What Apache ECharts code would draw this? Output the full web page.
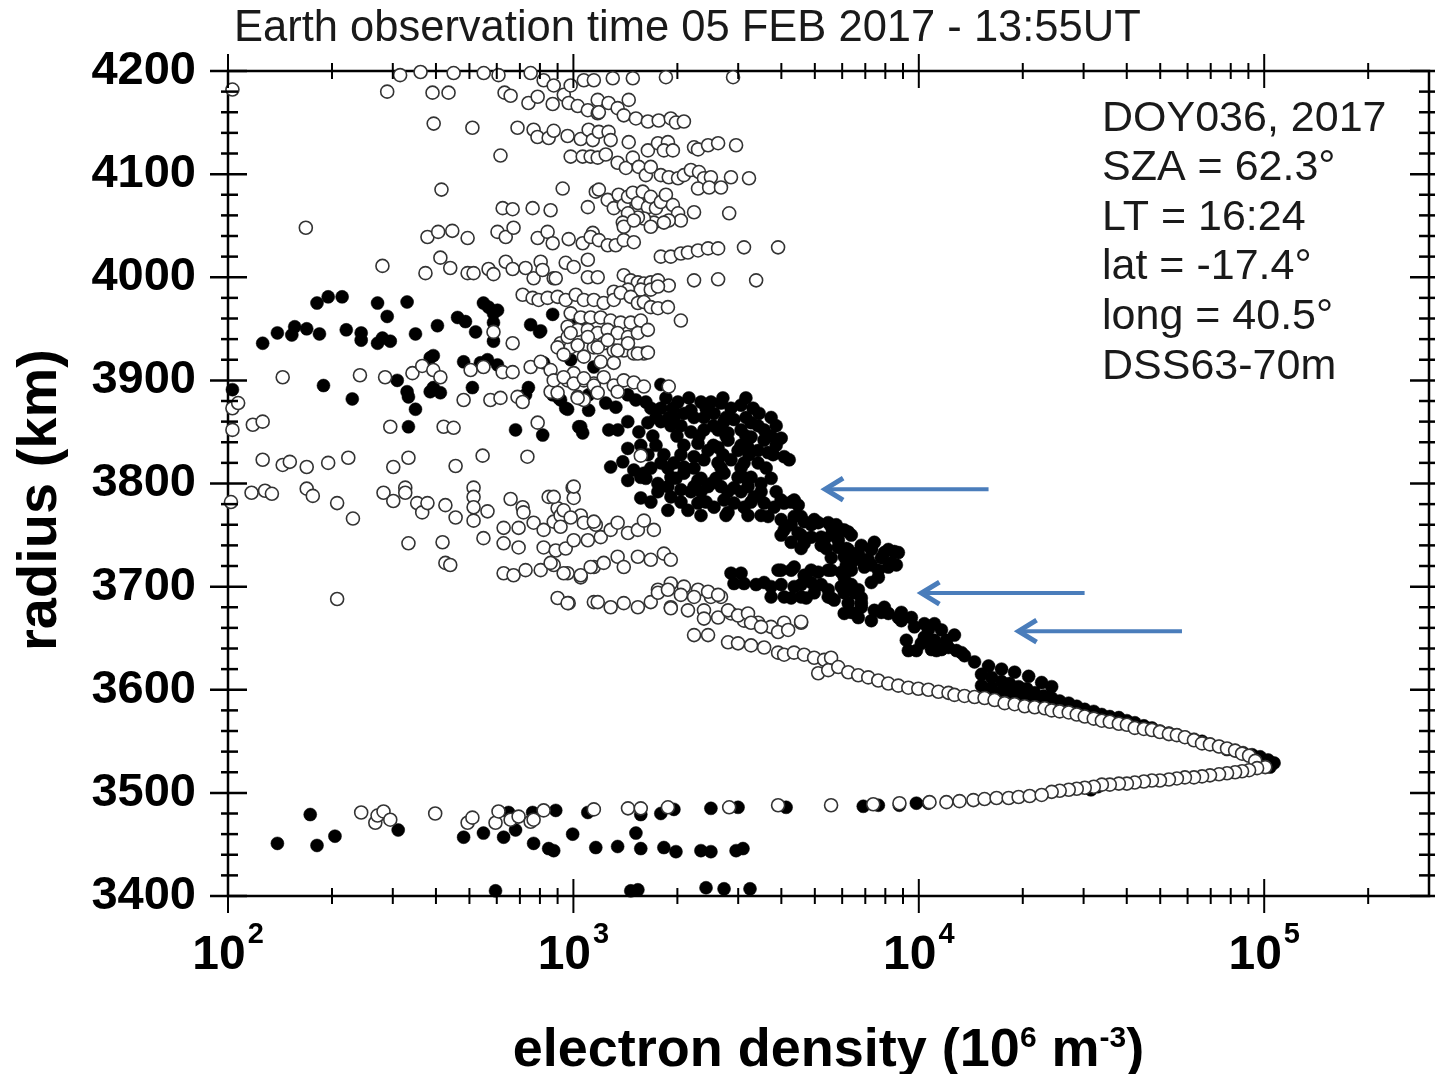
<!DOCTYPE html>
<html><head><meta charset="utf-8">
<script src="https://cdn.jsdelivr.net/npm/echarts@6/dist/echarts.min.js"></script>
<style>html,body{margin:0;padding:0;background:#fff}#c{width:1435px;height:1074px}</style>
</head><body><div id="c"></div>
<script>
const titleText = 'Earth observation time 05 FEB 2017 - 13:55UT';
const infoLines = ['DOY036, 2017', 'SZA = 62.3°', 'LT = 16:24', 'lat = -17.4°', 'long = 40.5°', 'DSS63-70m'];
const xName = 'electron density (10{sup|6} m{sup|-3})';
const yName = 'radius (km)';
const xMin = 100, xMax = 300000, yMin = 3400, yMax = 4200;
const xMajorTicks = [100, 1000, 10000, 100000];
const xMinorTicks = [200,300,400,500,600,700,800,900,2000,3000,4000,5000,6000,7000,8000,9000,20000,30000,40000,50000,60000,70000,80000,90000,200000];
const yMajorTicks = [3400,3500,3600,3700,3800,3900,4000,4100,4200];
const yMinorTicks = [3420,3440,3460,3480,3520,3540,3560,3580,3620,3640,3660,3680,3720,3740,3760,3780,3820,3840,3860,3880,3920,3940,3960,3980,4020,4040,4060,4080,4120,4140,4160,4180];
// arrows: [tail density, radius, tip density]
const arrows = [[15920, 3794.5, 5285], [30200, 3693.7, 10040], [57800, 3656.8, 19190]];

// open circles [density, radius]
const openCircles = [
[103,4182],[289,4180],[391,4179],[435,4179],[394,4149],[510,4145],[689,4145],[615,4118],[767,4143],[787,4136],[848,4135],[877,4142],[962,4137],[1050,4134],[1107,4143],[1138,4133],[632,4179],[658,4176],[741,4169],[788,4175],[871,4168],[938,4177],[969,4169],[1029,4166],[1101,4162],[1176,4159],
[315,4196],[361,4199],[450,4198],[550,4198],[607,4196],[752,4198],[820,4191],[877,4186],[982,4186],[1072,4191],[1146,4191],
[415,4085],[931,4086],[1101,4068],[1161,4083],[168,4048],[624,4067],[667,4066],[762,4067],[859,4065],
[378,4039],[406,4044],[446,4045],[494,4038],[603,4044],[637,4039],[671,4048],
[788,4038],[842,4044],[871,4033],[969,4037],[1064,4033],[1138,4043],
[280,4011],[412,4019],[440,4009],[494,4004],[514,4004],[373,4004],
[568,4008],[587,4003],[637,4015],[667,4008],
[727,4009],[767,3999],[804,4015],[814,4007],[877,3999],[950,4014],[1002,4010],[1101,4017],[1101,4000],
[1300,4193],[1486,4193],[1853,4194],[2899,4194],
[1176,4172],[1185,4160],[1264,4169],[1343,4164],[1399,4157],[1446,4172],[1517,4154],[1643,4151],[1766,4152],[1914,4154],[1981,4150],[2089,4151],
[1185,4141],[1264,4141],[1282,4133],[1446,4131],[1643,4123],[1757,4130],[1878,4131],[1828,4123],[1941,4123],[2235,4126],[2295,4124],[2454,4128],[2624,4130],[2958,4128],
[982,4117],[1064,4117],[1122,4117],[1176,4116],[1241,4119],[1343,4111],[1419,4106],[1486,4116],[1546,4107],[1621,4099],[1675,4107],[1791,4099],[1888,4097],[2009,4096],[2089,4099],[2188,4104],[2310,4102],[2388,4096],[2501,4097],[2295,4086],[2472,4087],[2675,4087],[2859,4097],[3224,4096],
[1185,4085],[1257,4075],[1309,4067],[1352,4080],[1399,4070],[1439,4078],[1486,4082],[1537,4072],[1588,4083],[1643,4068],[1675,4078],[1734,4067],[1791,4073],[1853,4080],[1941,4070],[2009,4062],[2047,4055],[1888,4055],[1710,4053],[1600,4057],[1537,4058],[1439,4062],[1390,4053],[1399,4049],[1496,4055],[1675,4049],[1828,4053],[2235,4063],[2825,4062],
[1122,4039],[1185,4036],[1257,4031],[1326,4031],[1399,4036],[1496,4034],
[1791,4020],[1914,4020],[2047,4023],[2146,4024],[2295,4026],[2454,4028],[2624,4028],[3118,4029],[3914,4029],
[1176,4000],[889,3999],
[1399,4002],[1466,3997],[1537,3995],[1600,3994],[1675,3995],[1757,3997],[1888,3992],[1439,3988],[1567,3988],[1675,3988],[1757,3991],[2235,3997],[2624,3998],[3381,3997],[1309,3986],
[713,3983],[762,3980],[793,3978],[842,3980],[900,3981],[950,3978],[1016,3983],[1072,3978],[1146,3978],[1224,3975],[1309,3978],[1371,3985],[1466,3981],[1537,3975],[1600,3976],[1675,3971],[1757,3970],[1878,3971],[2047,3958],[982,3965],[1050,3961],[1122,3961],[1200,3961],[1282,3958],[1371,3956],[1466,3956],[1567,3958],[962,3952],[1029,3949],[1101,3949],[1176,3946],[1257,3949],[1343,3946],[1439,3942],[1537,3946],[1643,3949],[918,3936],[982,3932],[1072,3932],[1146,3932],[1224,3936],[1309,3929],[1399,3929],[1496,3926],[1600,3926],[667,3936],[587,3947],
[144,3903],[241,3905],[285,3903],[342,3907],[365,3914],[393,3910],[412,3903],[504,3910],[549,3913],[624,3908],[667,3908],[752,3913],[804,3918],[859,3910],[962,3900],[1002,3907],[1072,3900],[1146,3897],
[481,3881],[575,3881],[615,3883],[689,3884],[713,3879],[859,3889],[1029,3884],[1072,3881],
[103,3873],[107,3878],[103,3852],[102,3782],
[118,3857],[126,3860],[295,3855],[421,3855],[450,3854],[788,3859],
[126,3823],[144,3818],[151,3821],[169,3816],[195,3820],[223,3825],[301,3816],[333,3825],[456,3817],[546,3827],[736,3826],
[117,3791],[128,3793],[134,3790],[169,3795],[176,3788],[207,3781],[282,3791],[301,3783],[326,3796],[326,3791],[353,3781],[365,3772],[378,3781],[426,3779],[456,3767],[514,3796],[514,3787],[514,3777],[514,3764],[564,3773],[658,3785],[713,3777],[717,3772],[848,3787],[900,3776],[995,3796],[1002,3786],[1050,3769],[1161,3760],[767,3762],[628,3757],[694,3757],[820,3755],[877,3763],[918,3769],
[230,3766],[333,3742],[418,3743],[549,3747],[628,3742],[694,3738],[820,3738],[889,3735],[950,3737],[1002,3745],
[426,3723],[440,3721],[628,3713],[671,3711],[727,3716],[804,3716],[877,3721],[962,3713],[1050,3709],[1146,3719],
[207,3688],[900,3689],[969,3684],[1146,3685],
[900,3932],[962,3942],[1029,3934],[1101,3942],[1176,3932],[1257,3939],[1343,3929],[1439,3936],[1537,3926],[1643,3927],[937,3925],[1072,3923],[1200,3918],[1309,3917],[982,3946],
[877,3900],[937,3903],[1002,3897],[1072,3902],[1146,3895],[1224,3903],[1309,3895],[1399,3900],[1496,3898],[1600,3894],[1888,3894],[900,3888],[1029,3883],[1176,3888],[1343,3889],
[1567,3827],
[877,3787],[937,3774],[1002,3797],[982,3767],[918,3758],[1072,3762],[1146,3763],[1101,3745],[1200,3748],[1282,3755],[1343,3762],[1439,3752],[1537,3755],[1600,3764],[1710,3755],
[859,3723],[937,3713],[1050,3711],[1122,3719],[1224,3723],[1343,3729],[1399,3719],[1537,3729],[1675,3726],[1828,3732],[1914,3726],[962,3684],[1176,3685],[1282,3680],[1399,3684],[1537,3680],[1675,3685],[1914,3680],[2146,3677],[1757,3697],[1914,3703],[2089,3700],[2295,3697],[2501,3690],[2675,3690],[2388,3677],[2624,3670],[2859,3674],[3118,3667],[3427,3665],[3733,3661],[4074,3665],[4563,3665],
[1757,3694],[1878,3697],[2047,3692],[2235,3690],[2454,3695],[2624,3692],[1914,3679],[2235,3653],[2454,3653],[2388,3669],[2804,3677],[2997,3672],[3203,3674],[3268,3665],[3494,3661],[3914,3656],[4186,3658],[4563,3666],[2804,3646],[2997,3645],[3268,3643],[3566,3641],[3914,3636],[4074,3634],[4352,3636],[4655,3634],[4977,3631],[5321,3629],[5572,3631],[5114,3616],[5468,3619],[5845,3622],[6248,3617],[6679,3614],[7140,3612],[7633,3609],[8160,3606],[8723,3604],[9325,3602],[9968,3601],[10660,3600],[11400,3598],[12190,3597],[12680,3595],[13560,3594],[14500,3593],[15500,3592],[16570,3590],[17720,3587],[18940,3586],[20250,3584],[21650,3583],[23140,3582],
[24250,3580],[25580,3579],[27170,3578],[28660,3576],[30230,3574],[32100,3572],[33880,3570],[35720,3569],[37940,3567],[40030,3566],[42190,3563],[44830,3562],[47290,3561],[49890,3559],[52970,3557],[55870,3556],[58940,3554],[62600,3551],[66070,3548],[69660,3547],[73980,3545],[78050,3543],[82370,3541],[86280,3538],[90410,3536],[94200,3531],
[100700,3525],[95370,3524],[90410,3522],[86280,3521],[82370,3520],[78050,3519],[73980,3518],[69660,3517],[66070,3516],[62600,3515],[58940,3515],[55870,3514],[52970,3513],[49890,3512],[47290,3512],[44830,3511],[42190,3510],[40030,3509],[37940,3509],[35720,3508],[33880,3508],[32100,3506],[30230,3505],[28660,3504],[27170,3503],[25580,3502],[24250,3501],
[243,3481],[267,3471],[271,3478],[282,3482],[295,3474],[398,3480],[494,3471],[510,3476],[595,3471],[607,3482],[658,3474],[694,3477],[752,3472],[767,3474],[820,3483],[1146,3484],
[1439,3485],[1567,3485],[1878,3486],[2825,3486],[3914,3488],[5572,3488],[7380,3489],[8790,3490],[10740,3491],[12020,3491],[13120,3492],[14390,3493],[15500,3494],[16790,3495],[18200,3495],[19450,3496],[20940,3497],[22680,3498]
];

// filled circles [density, radius]
const filledCircles = [
[126,3936],[139,3946],[153,3944],[156,3952],[169,3950],[181,3975],[195,3981],[214,3981],[184,3945],[220,3949],[243,3946],[243,3939],[271,3975],[271,3936],[280,3941],[295,3938],[289,3962],[330,3976],[349,3945],[404,3953],[462,3961],[487,3957],[521,3947],[549,3975],[568,3971],[587,3965],[603,3968],[587,3956],[587,3938],[752,3954],[804,3948],[871,3964],[1029,3956],[1072,3960],[393,3924],
[798,3947],[385,3922],[481,3918],[538,3917],[564,3920],[603,3915],[820,3917],[982,3920],[1146,3913],[309,3900],[189,3895],[330,3889],[333,3884],[385,3889],[412,3888],[393,3893],[510,3893],[741,3893],[727,3886],[906,3883],[1107,3886],[229,3882],[349,3872],[962,3872],[1107,3871],[333,3855],[680,3852],[815,3847],[1050,3855],[1064,3849],[103,3891],
[1792,3896],
[871,3886],[918,3881],[950,3873],[1050,3882],[1241,3878],[1327,3874],[1437,3886],[1516,3881],[1621,3879],[1676,3873],[2007,3879],[2189,3871],[2341,3879],[2502,3879],[2675,3878],[3057,3876],[3448,3868],
[1036,3855],[1266,3852],[1345,3852],[1437,3860],[1547,3850],[1643,3859],[1792,3860],[1954,3864],[2089,3868],[2234,3864],[2388,3864],[2553,3868],[2729,3860],[2917,3862],[3057,3852],[3268,3845],[3565,3852],[3994,3844],[2189,3850],[2388,3852],[2622,3852],[2803,3849],[3268,3859],[3565,3842],
[1437,3834],[1282,3816],[1390,3821],[1496,3813],[1600,3810],[1792,3820],[1954,3820],[2089,3816],[2294,3839],[2453,3832],[2622,3835],[2803,3842],[2997,3832],[3203,3835],[3425,3832],[3661,3830],[4075,3826],[4214,3823],[2388,3823],[2622,3820],[2860,3823],[3119,3820],[3425,3820],[2234,3826],
[1437,3803],[1567,3806],[1756,3800],[1916,3806],[2089,3810],[2294,3803],[2502,3800],[2729,3810],[2997,3806],[3268,3806],[3494,3800],[1877,3797],[2048,3794],[2234,3797],[2453,3797],[2675,3797],[2917,3796],[3203,3797],
[1567,3786],[1877,3774],[2146,3774],[1916,3787],[2294,3781],[2553,3777],[2729,3784],[2917,3781],[3119,3777],[3334,3787],[3565,3781],[3811,3777],[4075,3781],[4475,3779],[2803,3772],
[1853,3883],[2160,3883],[2709,3883],[3158,3883],[1792,3873],[1941,3873],[2421,3873],[2860,3873],[3312,3873],[1734,3864],[1888,3864],[2766,3864],[3158,3864],[3736,3864],[1916,3856],[2048,3856],[2542,3856],[3425,3856],[3864,3856],[1698,3846],[1994,3846],[2310,3846],[2766,3846],[3158,3846],[3736,3846],[1567,3837],[1734,3837],[2089,3837],[2542,3837],[3057,3837],[3864,3837],[1643,3828],[1828,3828],[2048,3828],[2709,3828],[3224,3828],[3786,3828],[1676,3815],[1877,3815],[2234,3815],[2675,3815],[3057,3815],[3614,3815],[1621,3805],[1981,3805],[2341,3805],[2587,3805],[3158,3805],[3736,3805],[1756,3792],[2189,3792],[2341,3792],[2803,3792],[3057,3792],[3494,3792],[3864,3792],[1676,3782],[2048,3782],[2421,3782],[3268,3782],[4271,3782],[2341,3769],[2766,3769],[3203,3769],[3494,3769],
[3661,3768],[3994,3765],[4357,3768],[4656,3763],[5114,3762],[5578,3758],[6083,3755],[4075,3755],[4474,3752],[4881,3748],[5322,3745],[5845,3745],[4271,3743],[4656,3742],[5217,3740],[5845,3738],
[4271,3760],[4881,3760],[5766,3760],[3994,3750],[4563,3750],[5578,3750],[6375,3750],[4563,3737],[5395,3737],[6166,3737],[7288,3737],[5578,3728],[6592,3728],[7790,3728],[6166,3721],[7288,3721],[8610,3721],
[6083,3729],[6680,3733],[7288,3736],[7946,3733],[8496,3734],[6375,3723],[6955,3719],[7636,3716],[6955,3726],[8328,3723],
[2917,3703],[3119,3703],[3565,3704],[3914,3716],[4271,3716],[4656,3711],[5114,3714],[5578,3716],[6083,3709],[3736,3690],[4075,3690],[4563,3690],[4980,3694],[5466,3697],[5963,3700],[6680,3697],[7288,3704],[7636,3709],[8163,3719],
[3380,3702],[3994,3702],[4563,3702],[5217,3702],[6375,3702],[4271,3689],[4721,3689],[5578,3689],[6817,3689],[6375,3675],[7790,3675],[8902,3675],
[5690,3687],[6248,3684],[6817,3680],[7435,3677],[8163,3674],[8726,3670],[6083,3674],[6680,3670],[7288,3667],
[3994,3784],[4357,3784],[4563,3768],[4980,3765],[5466,3762],[5963,3755],[6248,3753],[5217,3748],[6248,3736],[6817,3740],[7435,3743],[8163,3736],[8726,3733],[6504,3726],[7143,3726],[3994,3716],[4357,3719],[4881,3716],[5466,3716],[5963,3714],[6375,3716],[6504,3694],[6817,3684],[8902,3667],[9710,3661],[10660,3658],[11630,3658],[12680,3653],[9328,3638],[10170,3645],[11100,3648],[12180,3641],[13290,3636],
[9204,3648],[10520,3648],[12030,3648],[9842,3638],[11250,3638],[12850,3638],
[2860,3713],[3057,3713],[3736,3700],[4357,3700],[4881,3704],[5466,3690],[6083,3694],[7946,3680],[9517,3670],[10380,3664],[11100,3664],[10380,3651],[11100,3646],[10880,3639],[11630,3639],[13560,3633],[14500,3627],[15920,3623],[17360,3620],[18940,3617],[20800,3613],[22680,3607],[24250,3603],
[15190,3615],[15190,3604],[16240,3612],[16240,3602],[17360,3608],[17360,3598],[18310,3606],[18310,3596],[19450,3603],[19450,3593],[20530,3601],[20530,3591],[21650,3597],[21650,3588],[22990,3594],[24250,3592],[25580,3589],[27160,3587],[28660,3584],[30230,3581],[32100,3579],[33860,3576],[35720,3574],[37940,3573],[40030,3570],[42220,3568],[44830,3565],[47290,3563],[49890,3560],[52970,3558],[55870,3556],[58940,3554],[62600,3552],[66070,3550],[69660,3547],[73980,3545],[78050,3542],[82340,3541],[86850,3539],[92240,3537],[97300,3535],[102600,3532],[106800,3529],[104000,3525],[31500,3503],[33000,3506],
[889,3483],[1101,3481],[1567,3479],[1791,3480],[1954,3484],[2501,3485],[2997,3486],[4128,3486],[6906,3487],[9840,3490],[7636,3488],[8785,3488],[10660,3490],
[995,3460],[1161,3447],[1343,3448],[1517,3461],[1567,3446],[1828,3447],[1981,3443],[2340,3444],[2501,3443],[2958,3444],[3097,3446],[877,3444],
[1466,3405],[1537,3406],[2421,3408],[2730,3407],[3246,3407],
[139,3451],[173,3479],[181,3449],[204,3458],[311,3464],[481,3457],[549,3461],[628,3457],[649,3481],[680,3464],[767,3451],[762,3481],[848,3446],[595,3405]
];

const FONT = '"Liberation Sans", Arial, Helvetica, sans-serif';
const chart = echarts.init(document.getElementById('c'), null, {renderer: 'canvas'});

const xTickData = xMajorTicks.map(v => [v, yMin, 1]).concat(xMinorTicks.map(v => [v, yMin, 0]));
const yTickData = yMajorTicks.map(v => [xMin, v, 1]).concat(yMinorTicks.map(v => [xMin, v, 0]));

function lineEl(x1, y1, x2, y2, w) {
  return {type: 'line', shape: {x1, y1, x2, y2}, style: {stroke: '#000', lineWidth: w}};
}

chart.setOption({
  animation: false,
  backgroundColor: '#fff',
  title: {
    text: titleText, left: 229, top: 2,
    textStyle: {fontFamily: FONT, fontSize: 43.5, fontWeight: 'normal', color: '#1a1a1a'}
  },
  grid: {left: 228, right: 6, top: 71, bottom: 178, show: true, borderColor: '#000', borderWidth: 2.5,
         backgroundColor: 'transparent', containLabel: false, outerBoundsMode: 'none'},
  xAxis: {
    type: 'log', logBase: 10, min: xMin, max: xMax,
    axisLine: {show: false}, axisTick: {show: false}, splitLine: {show: false},
    axisLabel: {
      margin: 24, showMaxLabel: false, color: '#000',
      formatter: v => '{b|10}{s|' + Math.round(Math.log10(v)) + '}',
      rich: {
        b: {fontFamily: FONT, fontSize: 48, fontWeight: 'bold', color: '#000', padding: [12, 0, 0, 0]},
        s: {fontFamily: FONT, fontSize: 29, fontWeight: 'bold', color: '#000', verticalAlign: 'top', padding: [0, 0, 0, 2]}
      }
    },
    name: xName, nameLocation: 'middle', nameGap: 128,
    nameTextStyle: {
      fontFamily: FONT, fontSize: 54, fontWeight: 'bold', color: '#000',
      rich: {sup: {fontFamily: FONT, fontSize: 30, fontWeight: 'bold', color: '#000', verticalAlign: 'top'}}
    }
  },
  yAxis: {
    type: 'value', min: yMin, max: yMax, interval: 100,
    axisLine: {show: false}, axisTick: {show: false}, splitLine: {show: false},
    axisLabel: {margin: 32, color: '#000', fontFamily: FONT, fontSize: 47, fontWeight: 'bold', formatter: v => String(v)}
  },
  graphic: [
    {type: 'text', x: 41, y: 500, rotation: Math.PI / 2,
     style: {text: yName, fontFamily: FONT, fontSize: 56, fontWeight: 'bold', fill: '#000', align: 'center', verticalAlign: 'middle'}},
    {type: 'text', x: 1102, y: 94,
     style: {text: infoLines.join('\n'), fontFamily: FONT, fontSize: 43, lineHeight: 49.6, fill: '#1a1a1a'}}
  ],
  series: [
    {
      type: 'scatter', name: 'filled', data: filledCircles, z: 3,
      symbol: 'circle', symbolSize: 13,
      itemStyle: {color: '#000', borderColor: '#000', borderWidth: 0.5, opacity: 1},
      emphasis: {disabled: true}
    },
    {
      type: 'scatter', name: 'open', data: openCircles, z: 4,
      symbol: 'circle', symbolSize: 13,
      itemStyle: {color: '#fff', borderColor: '#333', borderWidth: 1.6, opacity: 1},
      emphasis: {disabled: true}
    },
    {
      type: 'custom', name: 'arrows', data: arrows, z: 6, silent: true, clip: false,
      renderItem: (params, api) => {
        const a = api.coord([api.value(0), api.value(1)]);
        const b = api.coord([api.value(2), api.value(1)]);
        const col = '#4a7dbb';
        return {type: 'group', children: [
          {type: 'line', shape: {x1: a[0], y1: a[1], x2: b[0] + 3, y2: b[1]}, style: {stroke: col, lineWidth: 4}},
          {type: 'polyline', shape: {points: [[b[0] + 20, b[1] - 11], [b[0] + 2, b[1]], [b[0] + 20, b[1] + 11]]},
           style: {stroke: col, lineWidth: 5, fill: null, lineJoin: 'miter'}}
        ]};
      }
    },
    {
      type: 'custom', name: 'xticks', data: xTickData, z: 7, silent: true, clip: false,
      renderItem: (params, api) => {
        const v = api.value(0), major = api.value(2);
        const p = api.coord([v, yMin]);
        const q = api.coord([v, yMax]);
        const L = major ? 17 : 8;
        return {type: 'group', children: [
          lineEl(p[0], p[1] - L, p[0], p[1] + L, 2),
          lineEl(q[0], q[1] - L, q[0], q[1] + L, 2)
        ]};
      }
    },
    {
      type: 'custom', name: 'yticks', data: yTickData, z: 7, silent: true, clip: false,
      renderItem: (params, api) => {
        const v = api.value(1), major = api.value(2);
        const p = api.coord([xMin, v]);
        const q = api.coord([xMax, v]);
        const els = major
          ? [lineEl(p[0] - 18, p[1], p[0] + 19, p[1], 2.5), lineEl(q[0] - 19, q[1], q[0] + 18, q[1], 2.5)]
          : [lineEl(p[0] - 7, p[1], p[0] + 10, p[1], 2.5), lineEl(q[0] - 10, q[1], q[0] + 7, q[1], 2.5)];
        return {type: 'group', children: els};
      }
    }
  ]
});
</script>
</body></html>
